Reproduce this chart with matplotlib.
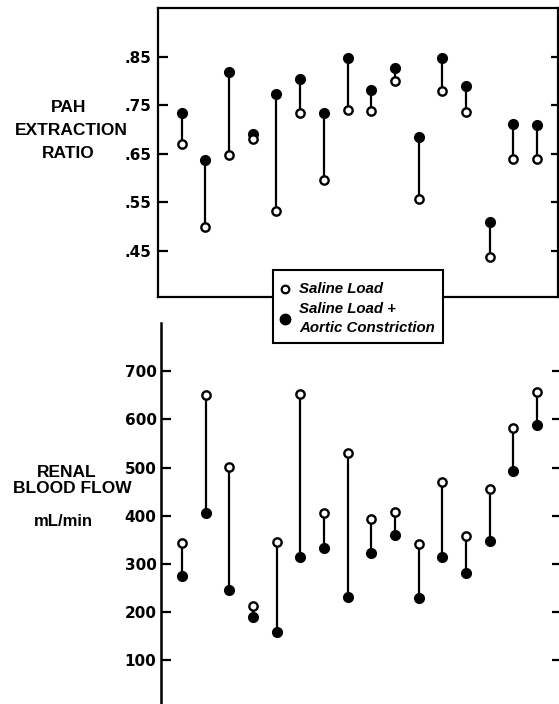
import matplotlib
matplotlib.use("Agg")
import matplotlib.pyplot as plt
from matplotlib.patches import Rectangle
from matplotlib.lines import Line2D

# ---- data ----
experiments = list(range(1, 17))
pah_saline = [0.670, 0.500, 0.647, 0.681, 0.532, 0.735, 0.596, 0.741,
              0.738, 0.800, 0.558, 0.779, 0.736, 0.438, 0.639, 0.640]
pah_aortic = [0.734, 0.637, 0.819, 0.690, 0.773, 0.803, 0.734, 0.848,
              0.781, 0.827, 0.684, 0.848, 0.790, 0.509, 0.712, 0.709]
rbf_saline = [344, 650, 501, 212, 345, 652, 405, 531,
              393, 407, 341, 470, 358, 455, 582, 656]
rbf_aortic = [274, 405, 246, 190, 159, 314, 332, 231,
              322, 360, 230, 314, 280, 347, 492, 589]
pah_ticks = [0.45, 0.55, 0.65, 0.75, 0.85]
pah_ticklabels = [".45", ".55", ".65", ".75", ".85"]
rbf_ticks = [100, 200, 300, 400, 500, 600, 700]
rbf_ticklabels = ["100", "200", "300", "400", "500", "600", "700"]
legend_labels = ["Saline Load", "Saline Load +", "Aortic Constriction"]

W, H = 559, 704
fig = plt.figure(figsize=(W / 100, H / 100), dpi=100)
fig.patch.set_facecolor("white")

TICKFONT = dict(family="DejaVu Sans", weight="bold", size=11)
LABELFONT = dict(family="Liberation Sans", weight="bold", size=12.5)

def fx(px):
    return px / W

def fy(py):
    return 1 - py / H

def draw_pairs(ax, hi, lo, filled_top):
    ax.vlines(experiments, lo, hi, color="black", lw=1.6, zorder=2)
    # filled = aortic constriction, open = saline
    if filled_top:
        sal, aor = lo, hi
    else:
        sal, aor = hi, lo
    ax.plot(experiments, aor, "o", color="black", ms=7, zorder=3, ls="none")
    ax.plot(experiments, sal, "o", mfc="white", mec="black", mew=1.7, ms=6,
            zorder=4, ls="none")

# ---- top panel ----
ax1 = fig.add_axes([fx(158), fy(296.5), fx(557.5) - fx(158), (296.5 - 8) / H])
draw_pairs(ax1, pah_aortic, pah_saline, filled_top=True)
ax1.set_xlim(0, 16.86)
ax1.set_ylim(0.3566, 0.950)
ax1.set_xticks([])
ax1.set_yticks(pah_ticks)
ax1.set_yticklabels(pah_ticklabels, **TICKFONT)
ax1.tick_params(axis="y", direction="in", left=True, right=True, length=7,
                width=1.6, pad=4.5)
for t in ax1.yaxis.get_major_ticks():
    t.tick2line.set_markersize(5)
for s in ax1.spines.values():
    s.set_linewidth(1.6)

# ---- bottom panel ----
ax2 = fig.add_axes([fx(160.7), 0, 1 - fx(160.7), (704 - 323) / H])
draw_pairs(ax2, rbf_saline, rbf_aortic, filled_top=False)
ax2.set_xlim(0.1, 16.93)
ax2.set_ylim(9, 800)
ax2.set_xticks([])
ax2.set_yticks(rbf_ticks)
ax2.set_yticklabels(rbf_ticklabels, **TICKFONT)
ax2.tick_params(axis="y", direction="in", left=True, right=True, length=7,
                width=1.6, pad=3)
for t in ax2.yaxis.get_major_ticks():
    t.tick2line.set_markersize(5)
for side in ["top", "right", "bottom"]:
    ax2.spines[side].set_visible(False)
ax2.spines["left"].set_linewidth(1.8)

# ---- axis titles (baselines placed as in the reference) ----
fig.text(fx(69), fy(111.7), "PAH", ha="center", va="baseline", **LABELFONT)
fig.text(fx(71), fy(135), "EXTRACTION", ha="center", va="baseline", **LABELFONT)
fig.text(fx(68), fy(158), "RATIO", ha="center", va="baseline", **LABELFONT)
fig.text(fx(67), fy(476.7), "RENAL", ha="center", va="baseline", **LABELFONT)
fig.text(fx(72), fy(493.3), "BLOOD FLOW", ha="center", va="baseline", **LABELFONT)
fig.text(fx(63), fy(522), "mL/min", ha="center", va="center",
         family="Liberation Sans", weight="bold", size=12)

# ---- legend ----
box = Rectangle((fx(273), fy(343)), fx(443) - fx(273), (343 - 270) / H,
                transform=fig.transFigure, facecolor="white", edgecolor="black",
                lw=1.5, zorder=5)
fig.add_artist(box)
fig.add_artist(Line2D([fx(285)], [fy(289)], marker="o", mfc="white", mec="black",
                      mew=1.6, ms=5.5, ls="none", transform=fig.transFigure, zorder=6))
fig.add_artist(Line2D([fx(285)], [fy(319)], marker="o", color="black",
                      ms=7.5, ls="none", transform=fig.transFigure, zorder=6))
LEGFONT = dict(family="Liberation Sans", style="italic", weight="bold", size=10.8)
fig.text(fx(299), fy(289), legend_labels[0], ha="left", va="center", zorder=7, **LEGFONT)
fig.text(fx(299), fy(309), legend_labels[1], ha="left", va="center", zorder=7, **LEGFONT)
fig.text(fx(299), fy(328), legend_labels[2], ha="left", va="center", zorder=7, **LEGFONT)

fig.savefig("out.png", dpi=100, facecolor="white")
